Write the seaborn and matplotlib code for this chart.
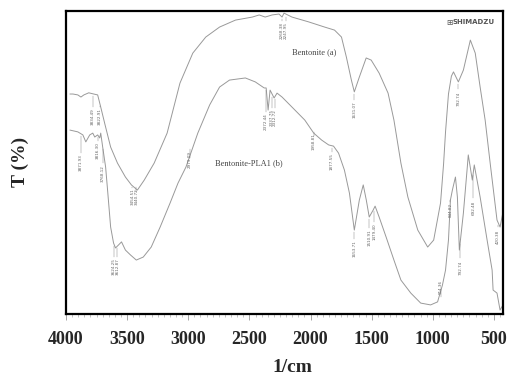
import matplotlib
matplotlib.use("Agg")
import matplotlib.pyplot as plt
import seaborn as sns
import pandas as pd
import numpy as np

sns.set_style("white")
plt.rcParams['font.family'] = ['Liberation Serif', 'DejaVu Serif']

# --- data (wavenumber 1/cm, transmittance %) ---
wn_a = [3968, 3943, 3903, 3878, 3854, 3814, 3773, 3741, 3716, 3684, 3635, 3579,
        3514, 3465, 3416, 3360, 3279, 3173, 3068, 2963, 2857, 2744, 2614, 2476,
        2420, 2371, 2314, 2258, 2233, 2217, 2152, 2015, 1885, 1804, 1747, 1707,
        1666, 1642, 1601, 1545, 1504, 1439, 1366, 1318, 1261, 1204, 1123, 1042,
        993, 937, 912, 896, 872, 848, 831, 791, 750, 693, 653, 613, 572, 531,
        475, 450, 426]
t_a = [72.6, 72.6, 72.3, 71.6, 72.3, 73.0, 72.6, 72.3, 68.3, 63.0, 55.1, 49.8,
       45.2, 42.6, 40.9, 44.2, 49.8, 59.7, 76.2, 86.1, 91.4, 94.7, 97.0, 98.0,
       98.7, 98.0, 98.7, 99.0, 98.0, 99.3, 98.0, 96.4, 94.7, 93.7, 91.4, 84.8,
       77.2, 73.3, 78.2, 84.5, 83.8, 79.5, 72.9, 64.0, 49.8, 38.6, 27.7, 22.1,
       24.4, 36.6, 49.5, 60.1, 72.6, 78.5, 79.9, 76.6, 80.5, 90.4, 86.1, 74.9,
       64.0, 49.8, 31.0, 28.7, 33.7]

wn_b = [3968, 3935, 3903, 3862, 3838, 3806, 3781, 3765, 3741, 3724, 3716, 3700,
        3676, 3660, 3635, 3611, 3595, 3570, 3546, 3514, 3473, 3425, 3368, 3303,
        3230, 3149, 3084, 3019, 2979, 2922, 2825, 2744, 2663, 2533, 2452, 2379,
        2363, 2347, 2331, 2298, 2274, 2233, 2152, 2047, 1974, 1909, 1852, 1812,
        1771, 1723, 1682, 1642, 1601, 1569, 1544, 1520, 1488, 1472, 1439, 1382,
        1318, 1261, 1180, 1099, 1018, 961, 921, 896, 872, 856, 840, 815, 799,
        783, 750, 718, 710, 677, 661, 613, 556, 515, 507, 475, 450, 426]
t_b = [60.7, 60.4, 60.1, 59.1, 56.8, 59.1, 59.7, 58.4, 59.1, 58.1, 59.7, 55.1,
       48.5, 40.9, 28.7, 23.4, 21.8, 22.8, 23.8, 21.1, 19.5, 17.8, 18.8, 22.1,
       28.7, 36.6, 43.2, 48.5, 53.1, 59.7, 69.0, 74.9, 77.2, 77.9, 76.6, 74.6,
       74.6, 67.3, 73.9, 71.3, 72.9, 71.6, 68.3, 64.0, 59.7, 57.4, 55.8, 55.4,
       53.1, 47.5, 39.9, 27.7, 37.6, 42.6, 37.6, 32.0, 34.3, 35.6, 32.0, 25.4,
       17.8, 11.2, 6.9, 3.6, 3.0, 4.0, 9.6, 14.5, 24.4, 37.6, 40.9, 45.2, 38.6,
       21.1, 33.3, 48.5, 52.5, 44.2, 49.2, 38.6, 24.4, 14.5, 7.9, 6.9, 1.3, 3.0]

# peak labels: text, which curve, label position (wavenumber, T)
peak_text = ["3834.49", "3822.91", "3454.51", "3440.72", "2268.38", "2247.95",
             "1631.07", "792.74", "420.38",
             "3871.93", "3816.30", "3768.12", "3624.25", "3612.87", "2979.09",
             "2372.44", "2337.75", "2312.72", "1958.81", "1877.55", "1653.71",
             "1510.91", "1479.40", "914.36", "844.82", "792.74", "692.48"]
peak_curve = ["a"] * 9 + ["b"] * 18
peak_wn = [3781, 3724, 3457, 3425, 2233, 2201,
           1642, 791, 467,
           3878, 3741, 3700, 3611, 3579, 2987,
           2363, 2314, 2290, 1974, 1828, 1642,
           1520, 1480, 937, 856, 775, 669]
peak_t = [65.0, 65.0, 38.6, 38.6, 93.4, 93.4,
          67.3, 71.0, 25.4,
          50.0, 53.8, 46.5, 15.5, 15.5, 51.1,
          63.4, 64.7, 64.7, 56.8, 50.2, 21.5,
          25.1, 27.1, 8.9, 34.3, 15.2, 35.0]

# ------------------------------------------------------------
df_a = pd.DataFrame({"wn": wn_a, "T": t_a})
df_b = pd.DataFrame({"wn": wn_b, "T": t_b})

fig = plt.figure(figsize=(5.1, 3.76), dpi=100)
ax = fig.add_axes([66 / 510, 1 - 314 / 376, (503 - 66) / 510, (314 - 11) / 376])

sns.lineplot(data=df_a, x="wn", y="T", ax=ax, color="#999999", lw=0.7,
             estimator=None, sort=False)
sns.lineplot(data=df_b, x="wn", y="T", ax=ax, color="#999999", lw=0.7,
             estimator=None, sort=False)

ax.set_xlim(3968, 426)
ax.set_ylim(0, 100)
ax.set_yticks([])
ax.set_xticks([4000, 3500, 3000, 2500, 2000, 1500, 1000, 500])
ax.set_xticks(np.arange(450, 4000, 50), minor=True)
ax.set_xticklabels(["4000", "3500", "3000", "2500", "2000", "1500", "1000", "500"],
                   fontsize=13, fontweight="bold")
ax.tick_params(axis="x", which="major", direction="out", length=4, width=0.6,
               color="#999999", pad=8, bottom=True)
ax.tick_params(axis="x", which="minor", direction="out", length=2.5, width=0.5,
               color="#aaaaaa", bottom=True)
ax.set_xlabel("")
ax.set_ylabel("")
for s in ax.spines.values():
    s.set_linewidth(1.6)
    s.set_color("black")

# peak annotations with leader lines
for txt, cv, x, y in zip(peak_text, peak_curve, peak_wn, peak_t):
    src_wn, src_t = (wn_a, t_a) if cv == "a" else (wn_b, t_b)
    yc = np.interp(x, src_wn[::-1], src_t[::-1])
    top = y + 3.2 if y < yc else y - 3.2
    ax.plot([x, x], [yc - 0.8 if y < yc else yc + 0.8, top], color="#888888", lw=0.35)
    ax.text(x, y, txt, rotation=90, fontsize=3, color="#666666",
            ha="center", va="center", family=["DejaVu Sans"])

ax.text(2152, 86.5, "Bentonite (a)", fontsize=6, color="#444444", va="center")
ax.text(2784, 49.8, "Bentonite-PLA1 (b)", fontsize=6, color="#444444", va="center")

fig.text(446 / 510, 1 - 22.5 / 376, "\u229e", fontsize=5.5, color="#555555",
         va="center", ha="left", family=["DejaVu Sans"])
fig.text(453 / 510, 1 - 22.5 / 376, "SHIMADZU", fontsize=5, fontweight="bold",
         color="#555555", va="center", ha="left", family=["DejaVu Sans"])

fig.text(292 / 510, 1 - 367 / 376, "1/cm", fontsize=14, fontweight="bold",
         ha="center", va="center")
fig.text(20 / 510, 1 - 162 / 376, "T (%)", fontsize=14, fontweight="bold",
         rotation=90, ha="center", va="center")

fig.savefig("out.png", dpi=100)
